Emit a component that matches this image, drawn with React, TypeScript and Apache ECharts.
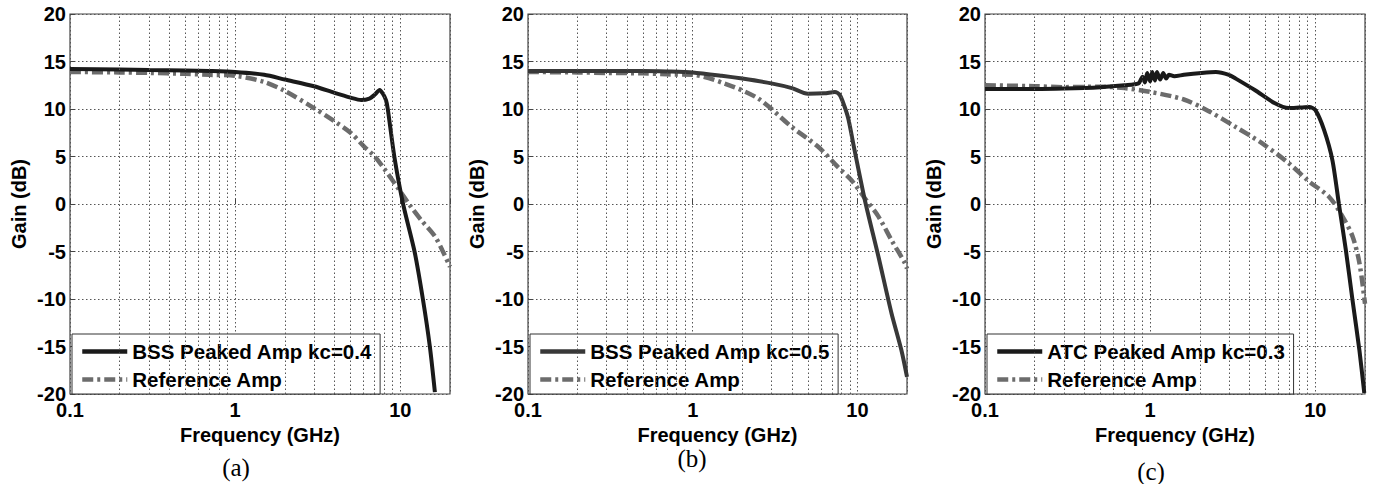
import React, { useEffect, useRef } from 'react';
import * as echarts from 'echarts';

const FONT = '"Liberation Sans", Arial, sans-serif';

// ---- Panel (a) ----
const freqA_bss = [0.1, 0.2, 0.3, 0.5, 0.7, 1, 1.5, 2, 3, 4, 5, 5.8, 6.5, 7.0, 7.5, 7.85, 8.2, 8.4, 9.2, 10.4, 12.2, 13.7, 15.1, 16.2];
const gainA_bss = [14.2, 14.15, 14.1, 14.05, 14.0, 13.9, 13.6, 13.1, 12.4, 11.7, 11.2, 10.95, 11.1, 11.5, 12.0, 11.6, 10.9, 10.0, 5.0, 0.0, -5.0, -10.0, -15.0, -19.8];
const freqA_ref = [0.1, 0.2, 0.3, 0.5, 0.7, 1, 1.5, 2, 3, 4, 5, 6, 7, 8, 9.7, 11.5, 13.4, 16.2, 18, 20];
const gainA_ref = [13.9, 13.85, 13.8, 13.7, 13.6, 13.5, 12.85, 11.9, 10.1, 8.7, 7.5, 6.1, 5.0, 3.7, 1.65, -0.2, -1.7, -3.4, -4.9, -6.6];

// ---- Panel (b) ----
const freqB_bss = [0.1, 0.2, 0.3, 0.5, 0.7, 1, 1.5, 2, 3, 4, 5, 6.3, 7.3, 7.8, 8.3, 8.8, 9.6, 11.1, 13.4, 16.1, 18.5, 20];
const gainB_bss = [14.0, 14.0, 14.0, 14.0, 13.95, 13.85, 13.5, 13.2, 12.7, 12.2, 11.6, 11.65, 11.8, 11.5, 10.4, 9.0, 5.7, 0.4, -5.5, -11.5, -15.4, -18.2];
const freqB_ref = [0.1, 0.2, 0.3, 0.5, 0.7, 1, 1.55, 2.5, 4, 5.8, 7.6, 9.2, 11.1, 13.4, 16.1, 19.4, 20];
const gainB_ref = [13.9, 13.85, 13.8, 13.75, 13.65, 13.6, 12.7, 11.1, 8.1, 6.0, 3.9, 2.5, 0.6, -1.3, -3.8, -6.2, -6.8];

// ---- Panel (c) ----
const freqC_atc = [0.1, 0.2, 0.3, 0.5, 0.7, 0.85, 0.9, 0.93, 0.96, 1.0, 1.03, 1.07, 1.1, 1.15, 1.2, 1.25, 1.3, 1.4, 1.6, 2.05, 2.5, 3.0, 3.3, 4.3, 5.7, 6.9, 8.0, 9.2, 10.0, 11.3, 12.7, 13.9, 15.3, 16.8, 18.5, 19.8];
const gainC_atc = [12.1, 12.1, 12.15, 12.3, 12.5, 12.7, 13.4, 12.8, 13.8, 12.9, 13.9, 13.0, 13.9, 13.1, 13.8, 13.2, 13.6, 13.45, 13.6, 13.8, 13.9, 13.6, 13.2, 12.0, 10.6, 10.1, 10.15, 10.2, 9.9, 7.8, 4.6, 0.0, -4.8, -10.1, -15.4, -19.9];
const freqC_ref = [0.1, 0.2, 0.3, 0.5, 0.7, 1.0, 1.6, 2.25, 3.3, 4.75, 6.9, 9.2, 12.1, 14.6, 16.8, 18.5, 20];
const gainC_ref = [12.5, 12.4, 12.3, 12.35, 12.2, 11.8, 11.0, 9.8, 8.1, 6.4, 4.3, 2.35, 0.77, -1.3, -3.4, -6.2, -10.5];

const seriesNames = [
  ['BSS Peaked Amp kc=0.4', 'Reference Amp'],
  ['BSS Peaked Amp kc=0.5', 'Reference Amp'],
  ['ATC Peaked Amp kc=0.3', 'Reference Amp'],
];
const panelLabels = ['(a)', '(b)', '(c)'];
const minorFreqs = [0.2, 0.3, 0.4, 0.5, 0.6, 0.7, 0.8, 0.9, 2, 3, 4, 5, 6, 7, 8, 9];

const pairs = (f: number[], g: number[]) => f.map((x, i) => [x, g[i]]);

export default function App() {
  const ref = useRef<HTMLDivElement>(null);
  useEffect(() => {
    if (!ref.current) return;
    const chart = echarts.init(ref.current, null, { renderer: 'svg' });

    const grids = [
      { left: 70, top: 14, width: 380, height: 380 },
      { left: 528, top: 14, width: 379, height: 380 },
      { left: 985, top: 14, width: 380, height: 380 },
    ];
    const panelData = [
      [pairs(freqA_bss, gainA_bss), pairs(freqA_ref, gainA_ref)],
      [pairs(freqB_bss, gainB_bss), pairs(freqB_ref, gainB_ref)],
      [pairs(freqC_atc, gainC_atc), pairs(freqC_ref, gainC_ref)],
    ];
    const mainColors = ['#1a1a1a', '#383838', '#1a1a1a'];
    const refColor = '#6c6c6c';
    const refDash: any = [11, 4, 3, 4];
    const gridLine = { color: '#555', width: 1, type: [1.5, 2.5] as any };
    const labelFont = '25px "Liberation Serif", "Times New Roman", serif';
    const labelPos = [[236, 467], [692, 458], [1151, 471]];

    const series: any[] = [];
    panelData.forEach((pd, i) => {
      series.push({
        type: 'line', name: 'grid' + i, xAxisIndex: i, yAxisIndex: i, data: [], z: 1, silent: true,
        markLine: {
          silent: true, symbol: ['none', 'none'], label: { show: false },
          lineStyle: gridLine, animation: false,
          data: minorFreqs.map((v) => ({ xAxis: v })),
        },
      });
      series.push({
        type: 'line', name: seriesNames[i][1], xAxisIndex: i, yAxisIndex: i,
        data: pd[1], symbol: 'none', showSymbol: false, smooth: 0.3, z: 2,
        color: refColor,
        lineStyle: { color: refColor, width: 4.5, type: refDash },
      });
      series.push({
        type: 'line', name: seriesNames[i][0], xAxisIndex: i, yAxisIndex: i,
        data: pd[0], symbol: 'none', showSymbol: false, smooth: 0.25, z: 3,
        color: mainColors[i],
        lineStyle: { color: mainColors[i], width: 4 },
      });
    });

    const option: any = {
      animation: false,
      backgroundColor: '#fff',
      grid: grids.map((g) => ({ ...g, show: true, borderColor: '#444', borderWidth: 1.2, backgroundColor: '#fff' })),
      xAxis: grids.map((_, i) => ({
        type: 'log', logBase: 10, min: 0.1, max: 20, gridIndex: i,
        axisLine: { show: false },
        axisTick: { show: true, inside: true, length: 5, lineStyle: { color: '#444' } },
        splitLine: { show: true, lineStyle: gridLine },
        axisLabel: {
          margin: 6, fontSize: 20, fontWeight: 'bold', color: '#000', fontFamily: FONT,
          formatter: (v: number) => {
            const l = Math.log10(v);
            if (Math.abs(l - Math.round(l)) > 1e-6) return '';
            return v < 1 ? '0.1' : String(Math.round(v));
          },
        },
        name: 'Frequency (GHz)', nameLocation: 'middle', nameGap: 28,
        nameTextStyle: { fontSize: 20, fontWeight: 'bold', color: '#000', fontFamily: FONT },
      })),
      yAxis: grids.map((_, i) => ({
        type: 'value', min: -20, max: 20, interval: 5, gridIndex: i,
        axisLine: { show: false },
        axisTick: { show: true, inside: true, length: 5, lineStyle: { color: '#444' } },
        splitLine: { show: true, lineStyle: gridLine },
        axisLabel: { margin: 4, fontSize: 20, fontWeight: 'bold', color: '#000', fontFamily: FONT },
        name: 'Gain (dB)', nameLocation: 'middle', nameGap: 41,
        nameTextStyle: { fontSize: 20, fontWeight: 'bold', color: '#000', fontFamily: FONT },
      })),
      legend: grids.map((g, i) => ({
        data: [
          { name: seriesNames[i][0], itemStyle: { opacity: 0 }, lineStyle: { color: mainColors[i], width: 4.5, type: 'solid' } },
          { name: seriesNames[i][1], itemStyle: { opacity: 0 }, lineStyle: { color: refColor, width: 4.5, type: refDash } },
        ],
        orient: 'vertical', left: g.left + 2, top: 334,
        padding: [7, 8, 4, 8], itemGap: 7, itemWidth: 45, itemHeight: 14,
        backgroundColor: '#fff', borderColor: '#333', borderWidth: 1, borderRadius: 0,
        textStyle: { fontSize: 20.5, fontWeight: 'bold', color: '#000', fontFamily: FONT },
        selectedMode: false,
      })),
      graphic: panelLabels.map((t, i) => ({
        type: 'text', x: labelPos[i][0], y: labelPos[i][1],
        style: { text: t, fill: '#000', font: labelFont, align: 'center', verticalAlign: 'middle' },
      })),
      series,
    };
    chart.setOption(option);
    return () => chart.dispose();
  }, []);
  return <div ref={ref} style={{ position: 'fixed', left: 0, top: 0, width: 1380, height: 484, background: '#fff' }} />;
}
